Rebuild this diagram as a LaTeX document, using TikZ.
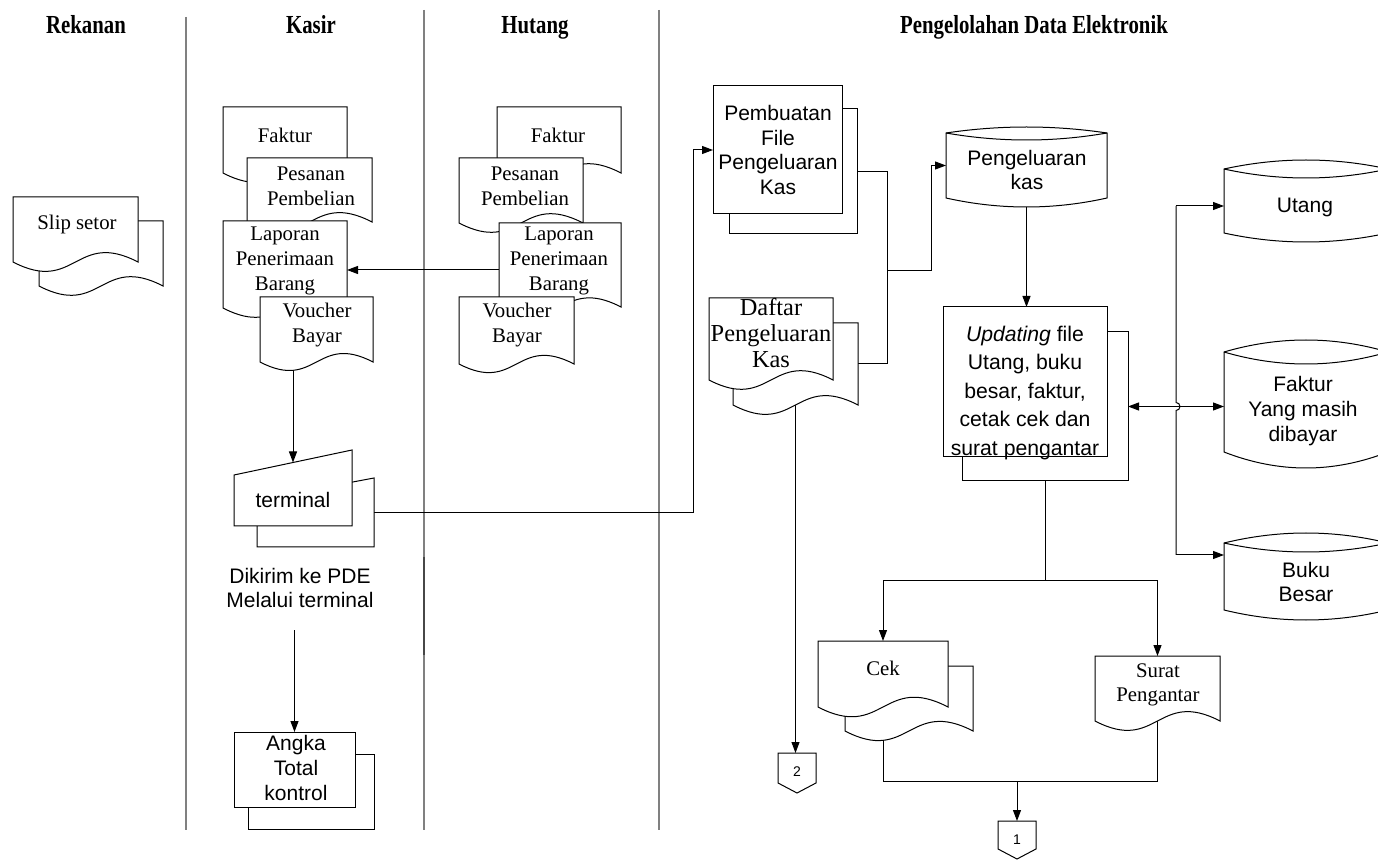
\documentclass[tikz,border=0pt]{standalone}
\usepackage{fontspec}
\setmainfont{Liberation Serif}
\setsansfont{Liberation Sans}
\newfontfamily\hdrfont{Liberation Serif}[FakeStretch=0.8]
\usetikzlibrary{arrows.meta,calc}
\pgfdeclarelayer{bg}
\pgfsetlayers{bg,main}

\tikzset{
  shp/.style={draw=black,fill=white,line width=0.5pt},
  lane/.style={draw=black!50,line width=1pt},
  conn/.style={draw=black,line width=0.5pt},
  arr/.style={conn,-{Triangle[length=5.5pt,width=4pt]}},
  arrb/.style={conn,{Triangle[length=5.5pt,width=4pt]}-{Triangle[length=5.5pt,width=4pt]}},
  box/.style={inner sep=0pt,outer sep=0pt},
  hdr/.style={font=\hdrfont\bfseries\fontsize{13}{15}\selectfont,inner sep=0pt},
  ttext/.style={font=\fontsize{10.4}{12.3}\selectfont,align=center,inner sep=0pt},
  tbig/.style={font=\fontsize{12.2}{13.2}\selectfont,align=center,inner sep=0pt},
  stext/.style={font=\sffamily\fontsize{10.5}{12.3}\selectfont,align=center,inner sep=0pt},
  utext/.style={font=\sffamily\fontsize{10.6}{14.25}\selectfont,align=center,inner sep=0pt},
  ntext/.style={font=\sffamily\fontsize{7}{8}\selectfont,inner sep=0pt},
}

% invisible bounding node: name, left, top, right, bottom
\newcommand\bnode[5]{\node[box,minimum width={(#4-#2)*0.5pt},minimum height={(#5-#3)*0.5pt}] (#1) at ({(#2+#4)/2},{(#3+#5)/2}) {};}
% document symbol with wavy bottom
\newcommand\docu[5]{\filldraw[shp] (#2,#3) -- (#4,#3) -- (#4,#5) .. controls ({(#2+#4)/2},{#5-0.26*(#4-#2)}) and ({(#2+#4)/2},{#5+0.26*(#4-#2)}) .. (#2,#5) -- cycle;
  \bnode{#1}{#2}{#3}{#4}{#5}}
% process rectangle
\newcommand\proc[5]{\filldraw[shp] (#2,#3) rectangle (#4,#5);
  \bnode{#1}{#2}{#3}{#4}{#5}}
% stored data: name, left, right, top corners, top bulge, lens depth, bottom corners, bottom bulge
\newcommand\cyl[8]{%
  \filldraw[shp] (#2,#4) .. controls ({#2+(#3-#2)/3},{#4-4*#5/3}) and ({#3-(#3-#2)/3},{#4-4*#5/3}) .. (#3,#4)
    -- (#3,#7) .. controls ({#3-(#3-#2)/3},{#7+4*#8/3}) and ({#2+(#3-#2)/3},{#7+4*#8/3}) .. (#2,#7) -- cycle;
  \draw[conn] (#2,#4) .. controls ({#2+(#3-#2)/3},{#4+4*#6/3}) and ({#3-(#3-#2)/3},{#4+4*#6/3}) .. (#3,#4);
  \bnode{#1}{#2}{#4}{#3}{#7}}
% off-page connector: name, left, top, right, tip
\newcommand\offpage[5]{\filldraw[shp] (#2,#3) -- (#4,#3) -- (#4,{#5-10}) -- ({(#2+#4)/2},#5) -- (#2,{#5-10}) -- cycle;
  \bnode{#1}{#2}{#3}{#4}{#5}}

\begin{document}
\begin{tikzpicture}[x=0.5pt,y=-0.5pt]
\useasboundingbox (0,0) rectangle (1378,861);
\begin{pgfonlayer}{bg}
  \fill[white] (0,0) rectangle (1378,861);
  % swimlane separators
  \draw[lane] (186,17) -- (186,830);
  \draw[lane] (424,10) -- (424,830);
  \draw[lane] (659,10) -- (659,830);
  \draw[draw=black!72,line width=1pt] (424,557) -- (424,655);
\end{pgfonlayer}

% lane headers
\node[hdr,anchor=base] (hdRek) at (86,34) {Rekanan};
\node[hdr,anchor=base] (hdKas) at (311,34) {Kasir};
\node[hdr,anchor=base] (hdHut) at (535,34) {Hutang};
\node[hdr,anchor=base] (hdPDE) at (1034,34) {Pengelolahan Data Elektronik};

% Rekanan
\docu{slipB}{39}{221}{163}{286}
\docu{slip}{13}{197}{138}{262}
\node[ttext] (slip-t) at (77,225) {Slip setor};

% Kasir
\docu{kFak}{223}{107}{347}{173}
\node[ttext] (kFak-t) at (285,135) {Faktur};
\docu{kPes}{247}{158}{372}{222}
\node[ttext] (kPes-t) at (311,186) {Pesanan\\Pembelian};
\docu{kLap}{223}{221}{347}{308}
\node[ttext] (kLap-t) at (285,261) {Laporan\\Penerimaan\\Barang};
\docu{kVou}{260}{297}{373}{362}
\node[ttext] (kVou-t) at (317,325) {Voucher\\Bayar};

\filldraw[shp] (257,500) -- (374,478) -- (374,547) -- (257,547) -- cycle;
\bnode{kTermB}{257}{479}{374}{547}
\filldraw[shp] (234,475) -- (352,450) -- (352,526) -- (234,526) -- cycle;
\bnode{kTerm}{234}{462.5}{352}{526}
\node[stext] (kTerm-t) at (293,500) {terminal};

\node[stext] (kKirim) at (300,588) {Dikirim ke PDE\\Melalui terminal};
\coordinate (kKirimEnd) at (294.5,630);

\proc{kAngB}{248}{754}{374}{829}
\proc{kAng}{234}{732}{355}{807}
\node[stext] (kAng-t) at (296,768) {Angka\\Total\\kontrol};

% Hutang
\docu{hFak}{497}{107}{621}{173}
\node[ttext] (hFak-t) at (558,135) {Faktur};
\docu{hPes}{459}{158}{583}{223}
\node[ttext] (hPes-t) at (525,186) {Pesanan\\Pembelian};
\docu{hLap}{499}{223}{621}{307}
\node[ttext] (hLap-t) at (559,261) {Laporan\\Penerimaan\\Barang};
\docu{hVou}{459}{297}{574}{364}
\node[ttext] (hVou-t) at (517,325) {Voucher\\Bayar};

% Pengelolahan Data Elektronik
\proc{pPemB}{729}{109}{857}{234}
\proc{pPem}{713}{86}{842}{214}
\node[stext] (pPem-t) at (778,150) {Pembuatan\\File\\Pengeluaran\\Kas};

\docu{pDafB}{733}{323}{858}{405}
\docu{pDaf}{709}{298}{833}{380}
\node[tbig] (pDaf-t) at (771,333) {Daftar\\Pengeluaran\\Kas};

\cyl{pKas}{946}{1107}{133}{6}{7}{198}{9}
\node[stext] (pKas-t) at (1027,170) {Pengeluaran\\kas};

\proc{pUpdB}{962}{332}{1128}{481}
\proc{pUpd}{943}{307}{1107}{457}
\node[utext] (pUpd-t) at (1025,393) {\textit{Updating} file\\Utang, buku\\besar, faktur,\\cetak cek dan\\surat pengantar};

\begin{scope}
  \clip (0,0) rectangle (1378,861);
  \cyl{cUtang}{1224}{1388}{169}{9}{9}{233}{9}
  \node[stext] (cUtang-t) at (1305,207) {Utang};
  \cyl{cFak}{1224}{1388}{352}{12}{12}{452}{16}
  \node[stext] (cFak-t) at (1303,411) {Faktur\\Yang masih\\dibayar};
  \cyl{cBuku}{1224}{1388}{543}{10}{9}{610}{10}
  \node[stext] (cBuku-t) at (1306,582) {Buku\\Besar};
\end{scope}

\docu{cekB}{845}{666}{973}{731}
\docu{cek}{818}{641}{948}{707}
\node[ttext] (cek-t) at (883,668) {Cek};

\docu{surat}{1095}{656}{1220}{721}
\node[ttext] (surat-t) at (1158,685) {Surat\\Pengantar};

\offpage{off2}{778}{753}{816}{793}
\node[ntext] (off2-t) at (797,772) {2};
\offpage{off1}{998}{821}{1036}{859}
\node[ntext] (off1-t) at (1017,840) {1};

% connectors
\coordinate (lapIn) at ([yshift=-2.5pt]hLap.west);
\coordinate (jn) at (887,271);
\coordinate (busTop) at (1176,206);
\coordinate (busBot) at (1176,555);
\coordinate (hop) at (busTop |- pUpdB.east);
\coordinate (split) at (1045,580);
\coordinate (merge) at (1017,781);

\begin{pgfonlayer}{bg}
  \draw[arr] (lapIn) -- (kLap.east |- lapIn);
  \draw[arr] (kTerm.north |- kVou.center) -- (kTerm.north);
  \draw[arr] (kTermB.east) -| ([xshift=-10pt]pPem.west) -- (pPem.west);
  \draw[arr] (kKirimEnd) -- (kAng.north);

  \draw[conn] (pPemB.east) -| (jn);
  \draw[conn] (pDafB.east) -| (jn);
  \draw[arr] (jn) -| ([xshift=-7.5pt]pKas.west) -- (pKas.west);
  \draw[arr] (pDafB.south) -- (pDafB.south |- off2.north);
  \draw[arr] (pKas.south) -- (pKas.south |- pUpd.north);

  \draw[arr] (busTop) -- (cUtang.west |- busTop);
  \draw[arr] (busBot) -- (cBuku.west |- busBot);
  \draw[conn] (busTop) -- ([yshift=2pt]hop) arc[start angle=90,end angle=-90,radius=2pt] -- (busBot);
  \draw[arrb] (pUpdB.east) -- (cFak.west |- pUpdB.east);

  \draw[conn] (pUpdB.south) -- (split);
  \draw[arr] (split) -| (cek.north);
  \draw[arr] (split) -| (surat.north);
  \draw[conn] (cek.south) |- (merge);
  \draw[conn] (surat.south) |- (merge);
  \draw[arr] (merge) -- (off1.north);
\end{pgfonlayer}
\end{tikzpicture}
\end{document}
